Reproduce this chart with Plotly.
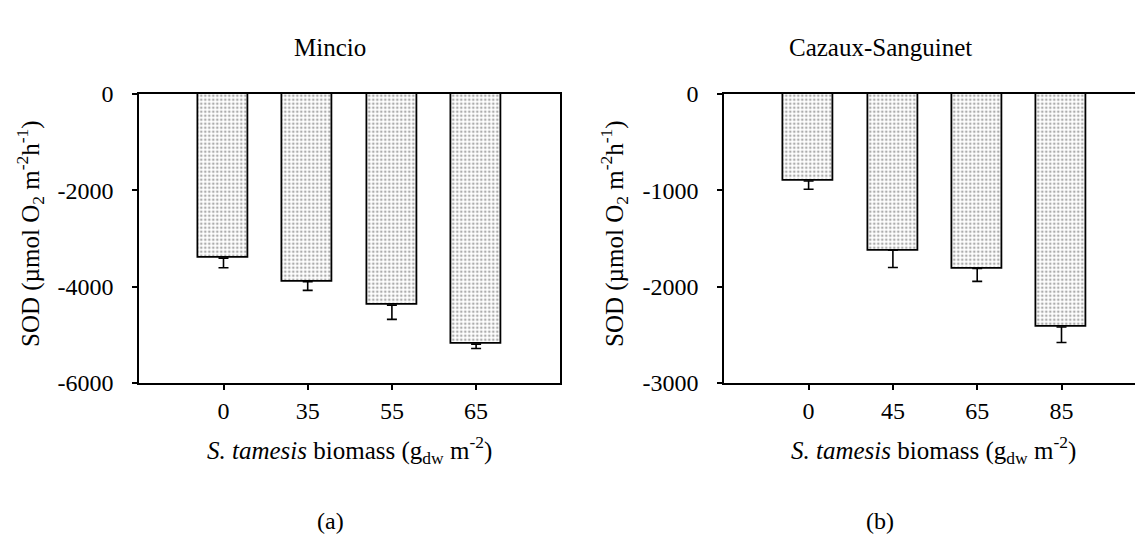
import plotly.graph_objects as go

# ---- data ----
mincio_biomass = ["0", "35", "55", "65"]
mincio_sod = [-3410, -3900, -4385, -5195]
mincio_err = [200, 180, 296, 91]

cazaux_biomass = ["0", "45", "65", "85"]
cazaux_sod = [-905, -1623, -1813, -2420]
cazaux_err = [86, 180, 133, 161]

mincio_yticks = [0, -2000, -4000, -6000]
mincio_yticktext = ["0", "-2000", "-4000", "-6000"]
cazaux_yticks = [0, -1000, -2000, -3000]
cazaux_yticktext = ["0", "-1000", "-2000", "-3000"]

FONT = "Liberation Serif"
FS = 24

fig = go.Figure()

def add_bars(cats, vals, errs, xa, ya):
    fig.add_trace(go.Bar(
        x=list(range(len(cats))), y=vals,
        xaxis=xa, yaxis=ya,
        width=0.594,
        marker=dict(
            color="white",
            line=dict(color="black", width=1.8),
            pattern=dict(shape=".", fgcolor="#5a5a5a", bgcolor="white",
                         size=4, solidity=0.35, fillmode="overlay"),
        ),
        error_y=dict(type="data", symmetric=False,
                     array=[0] * len(errs), arrayminus=errs,
                     color="black", thickness=1.6, width=5),
        showlegend=False,
    ))

add_bars(mincio_biomass, mincio_sod, mincio_err, "x", "y")
add_bars(cazaux_biomass, cazaux_sod, cazaux_err, "x2", "y2")

W, H = 1135, 548
ytop = 1 - 84.7 / H
ybot = 1 - 388.4 / H

axis_common = dict(showline=True, linecolor="black", linewidth=1.8,
                   ticks="outside", ticklen=5, tickwidth=1.5, tickcolor="black",
                   showgrid=False, zeroline=False,
                   tickfont=dict(family=FONT, size=FS, color="black"))

fig.update_layout(
    width=W, height=H,
    margin=dict(l=0, r=0, t=0, b=0),
    paper_bgcolor="white", plot_bgcolor="white",
    font=dict(family=FONT, size=FS, color="black"),
    bargap=0,
    xaxis=dict(domain=[139.3 / W, 560.3 / W], range=[-1, 4],
               tickvals=list(range(len(mincio_biomass))), ticktext=mincio_biomass,
               mirror=True, anchor="y", **axis_common),
    yaxis=dict(domain=[ybot, ytop], range=[-6000, 0],
               tickvals=mincio_yticks, ticktext=mincio_yticktext,
               mirror=True, anchor="x", ticklabelstandoff=14, **axis_common),
    xaxis2=dict(domain=[724.3 / W, 1.0], range=[-1, (W - 724.3) / 84.3 - 1],
                tickvals=list(range(len(cazaux_biomass))), ticktext=cazaux_biomass,
                mirror=True, anchor="y2", **axis_common),
    yaxis2=dict(domain=[ybot, ytop], range=[-3000, 0],
                tickvals=cazaux_yticks, ticktext=cazaux_yticktext,
                mirror=False, anchor="x2", ticklabelstandoff=14, **axis_common),
)

def ann(text, x, y, angle=0, size=FS):
    fig.add_annotation(text=text, x=x / W, y=1 - y / H, xref="paper", yref="paper",
                       showarrow=False, textangle=angle,
                       font=dict(family=FONT, size=size, color="black"),
                       xanchor="center", yanchor="middle")

ylab = "SOD (µmol O<sub>2</sub> m<sup>-2</sup>h<sup>-1</sup>)"
xlab = "<i>S. tamesis</i> biomass (g<sub>dw</sub> m<sup>-2</sup>)"

ann("Mincio", 330, 36, size=25)
ann("Cazaux-Sanguinet", 880, 36, size=25)
ann(ylab, 30, 232, angle=-90, size=25)
ann(ylab, 614, 232, angle=-90, size=25)
ann(xlab, 349, 459, size=25)
ann(xlab, 933, 459, size=25)
ann("(a)", 330, 533)
ann("(b)", 880, 533)

fig.write_html("out.html")
